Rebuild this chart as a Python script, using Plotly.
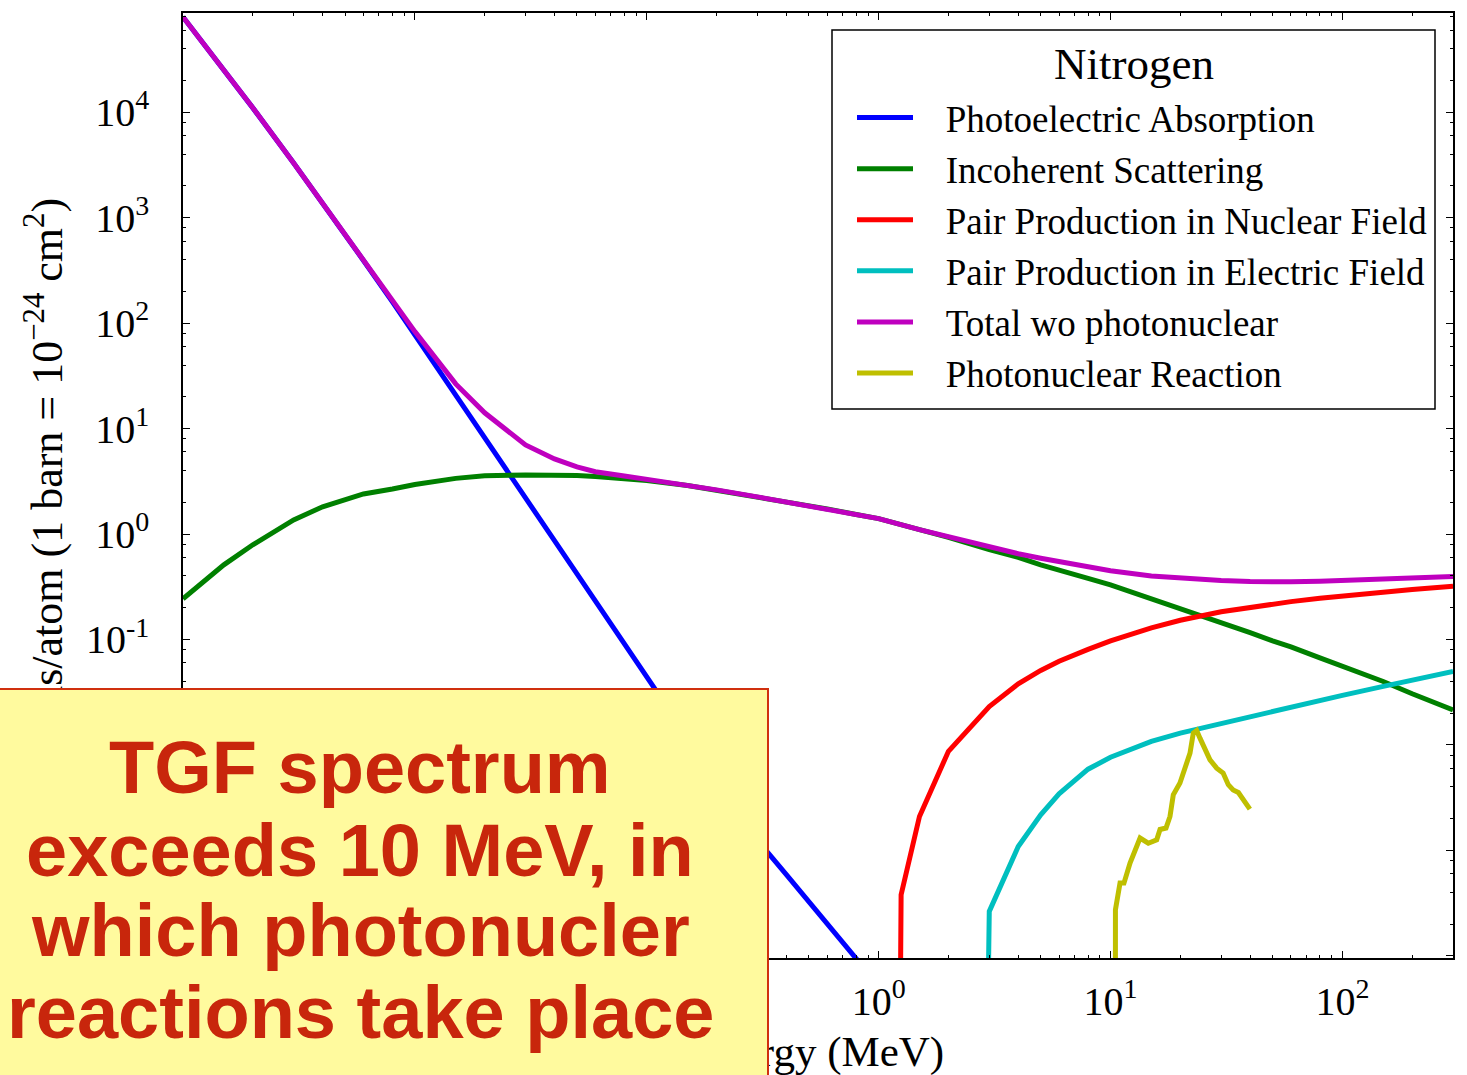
import numpy as np
import plotly.graph_objects as go

# ---------------- data ----------------
E_grid = [0.001, 0.0015, 0.002, 0.003, 0.004, 0.005, 0.006, 0.008, 0.01, 0.015,
          0.02, 0.03, 0.04, 0.05, 0.06, 0.08, 0.1, 0.15, 0.2, 0.3, 0.4, 0.5, 0.6,
          0.8, 1.0, 1.5, 2, 3, 4, 5, 6, 8, 10, 15, 20, 30, 40, 50, 60, 80, 100,
          150, 200, 300]

E_photo = [0.001, 0.0015, 0.002, 0.003, 0.004, 0.005, 0.006, 0.008, 0.01, 0.015,
           0.02, 0.03, 0.04, 0.05, 0.06, 0.08, 0.1, 0.15, 0.2, 0.3, 0.4, 0.5,
           0.6, 0.8, 1.0]
sigma_photo = [7.98e4, 2.547e4, 1.098e4, 3291, 1375, 691, 392.6, 158.8, 77.7,
               20.9, 8.23, 2.20, 0.865, 0.419, 0.2325, 0.0913, 0.0443, 0.01185,
               4.675e-3, 1.252e-3, 5.89e-4, 3.27e-4, 2.02e-4, 9.42e-5, 5.23e-5]

sigma_incoh = [0.243, 0.51, 0.79, 1.36, 1.81, 2.14, 2.40, 2.67, 2.95, 3.37,
               3.56, 3.63, 3.63, 3.59, 3.51, 3.37, 3.22, 2.89, 2.61, 2.24, 2.01,
               1.84, 1.73, 1.53, 1.40, 1.10, 0.93, 0.71, 0.60, 0.51, 0.45, 0.38,
               0.33, 0.243, 0.20, 0.147, 0.116, 0.097, 0.085, 0.067, 0.056,
               0.040, 0.0306, 0.0215]

sigma_total = [7.98e4, 2.55e4, 1.10e4, 3296, 1380, 696, 398, 164, 83, 26.5,
               14.1, 7.0, 5.15, 4.33, 3.90, 3.55, 3.30, 2.91, 2.62, 2.25, 2.01,
               1.84, 1.73, 1.53, 1.40, 1.10, 0.94, 0.74, 0.65, 0.59, 0.545, 0.49,
               0.448, 0.40, 0.38, 0.363, 0.355, 0.352, 0.352, 0.356, 0.363,
               0.371, 0.379, 0.395]

E_pair_nuc = [1.022, 1.25, 1.5, 2, 3, 4, 5, 6, 8, 10, 15, 20, 30, 40, 50, 60,
              80, 100, 150, 200, 300]
sigma_pair_nuc = [0.0, 3.8e-4, 2.1e-3, 8.7e-3, 0.02315, 0.03793, 0.05089,
                  0.06209, 0.08052, 0.09714, 0.1290, 0.1520, 0.1830, 0.2026,
                  0.2169, 0.2286, 0.2456, 0.2588, 0.2818, 0.2982, 0.3206]

E_pair_el = [2.044, 3, 4, 5, 6, 8, 10, 15, 20, 30, 40, 50, 60, 80, 100, 150,
             200, 300]
sigma_pair_el = [0.0, 2.64e-4, 1.09e-3, 2.18e-3, 3.445e-3, 5.89e-3, 7.64e-3,
                 0.01083, 0.01296, 0.01605, 0.01869, 0.02094, 0.02295, 0.02651,
                 0.02956, 0.03597, 0.04120, 0.04971]

E_photonuc = [10.45, 10.5, 10.99, 11.43, 12.14, 12.75, 13.41, 14.55, 15.82,
              16.35, 17.35, 18.05, 18.65, 19.93, 21.16, 22.02, 22.75, 23.53,
              24.31, 25.55, 26.85, 28.7, 30.6, 32.2, 33.8, 35.6, 37.4, 39.9]
sigma_photonuc = [0.0, 2.74e-4, 4.9e-4, 4.9e-4, 7.6e-4, 1.01e-3, 1.31e-3,
                  1.17e-3, 1.26e-3, 1.58e-3, 1.63e-3, 2.10e-3, 3.37e-3, 4.35e-3,
                  6.25e-3, 8.37e-3, 0.01295, 0.0137, 0.0116, 9.0e-3, 7.23e-3,
                  6.03e-3, 5.41e-3, 4.2e-3, 3.75e-3, 3.54e-3, 3.01e-3, 2.46e-3]

legend_title = "Nitrogen"
series_names = ["Photoelectric Absorption", "Incoherent Scattering",
                "Pair Production in Nuclear Field",
                "Pair Production in Electric Field", "Total wo photonuclear",
                "Photonuclear Reaction"]
series_colors = ["#0000FF", "#008000", "#FF0000", "#00BFBF", "#BF00BF", "#BFBF00"]

x_tick_vals = [1e-3, 1e-2, 1e-1, 1, 10, 100]
x_tick_text = ["10<sup>-3</sup>", "10<sup>-2</sup>", "10<sup>-1</sup>",
               "10<sup>0</sup>", "10<sup>1</sup>", "10<sup>2</sup>"]
y_tick_vals = [1e-4, 1e-3, 1e-2, 1e-1, 1, 10, 100, 1e3, 1e4]
y_tick_text = ["10<sup>-4</sup>", "10<sup>-3</sup>", "10<sup>-2</sup>",
               "10<sup>-1</sup>", "10<sup>0</sup>", "10<sup>1</sup>",
               "10<sup>2</sup>", "10<sup>3</sup>", "10<sup>4</sup>"]

x_title = "Energy (MeV)"
y_title = "barns/atom (1 barn = 10<sup>\u221224</sup> cm<sup>2</sup>)"
box_lines = ["TGF spectrum", "exceeds 10 MeV, in", "which photonucler",
             "reactions take place"]

# log-scale clipping of zero values (like matplotlib's nonpositive='clip')
CLIP_FLOOR = 1e-30


def clip(v):
    a = np.asarray(v, dtype=float)
    return np.where(a > 0, a, CLIP_FLOOR)


x_minor = [m * 10.0 ** d for d in range(-3, 3) for m in range(2, 10)]
y_minor = [m * 10.0 ** d for d in range(-5, 5) for m in (2, 4, 6, 8)]

SERIF = "Liberation Serif"
W, H = 1467, 1075
ML, MR, MT, MB = 183, 14, 13, 117
PW, PH = W - ML - MR, H - MT - MB


def px2paper_x(px):
    return (px - ML) / PW


def px2paper_y(py):
    return (H - MB - py) / PH


fig = go.Figure()
series = [(E_photo, sigma_photo), (E_grid, sigma_incoh),
          (E_pair_nuc, sigma_pair_nuc), (E_pair_el, sigma_pair_el),
          (E_grid, sigma_total), (E_photonuc, sigma_photonuc)]
NBSP = "\u00a0\u00a0\u00a0"
for (ex, sy), name, col in zip(series, series_names, series_colors):
    fig.add_trace(go.Scatter(x=ex, y=clip(sy), mode="lines", name=NBSP + name,
                             line=dict(color=col, width=5)))

axis_common = dict(type="log", showgrid=False, zeroline=False, showline=True,
                   linecolor="black", linewidth=1.5, mirror="ticks",
                   ticks="inside", ticklen=7, tickwidth=1, tickcolor="black",
                   tickfont=dict(family=SERIF, size=40, color="black"))

fig.update_xaxes(range=[-3, 2.477], tickmode="array", tickvals=x_tick_vals,
                 ticktext=x_tick_text, ticklabelstandoff=7,
                 minor=dict(tickmode="array", tickvals=x_minor, ticks="inside",
                            ticklen=3.5, tickwidth=1, tickcolor="black",
                            showgrid=False),
                 **axis_common)
fig.update_yaxes(range=[-4.02, 4.94], tickmode="array", tickvals=y_tick_vals,
                 ticktext=y_tick_text, ticklabelstandoff=24,
                 minor=dict(tickmode="array", tickvals=y_minor, ticks="inside",
                            ticklen=3.5, tickwidth=1, tickcolor="black",
                            showgrid=False),
                 **axis_common)

annotations = [
    # axis titles (annotations so the yellow box can cover them)
    dict(text=x_title, x=0.5, y=px2paper_y(1052), xref="paper",
         yref="paper", xanchor="center", yanchor="middle", showarrow=False,
         font=dict(family=SERIF, size=43, color="black")),
    dict(text=y_title, x=px2paper_x(44), y=px2paper_y(481), xref="paper",
         yref="paper", xanchor="center", yanchor="middle", textangle=-90,
         showarrow=False, font=dict(family=SERIF, size=44, color="black")),
    # legend title
    dict(text=legend_title, x=px2paper_x(1134), y=px2paper_y(64),
         xref="paper", yref="paper", xanchor="center", yanchor="middle",
         showarrow=False, font=dict(family=SERIF, size=45, color="black")),
    # yellow callout box
    dict(text=" ", x=px2paper_x(769), y=px2paper_y(688), xref="paper",
         yref="paper", xanchor="right", yanchor="top", width=830, height=420,
         bgcolor="#FFFA9E", bordercolor="#D0300E", borderwidth=2, borderpad=0,
         showarrow=False),
]
box_line_y = [767, 850, 930, 1012]
for t, yy in zip(box_lines, box_line_y):
    annotations.append(dict(text=t, x=px2paper_x(360), y=px2paper_y(yy),
                            xref="paper", yref="paper", xanchor="center",
                            yanchor="middle", showarrow=False,
                            font=dict(family="Liberation Sans", size=74,
                                      color="#C8260C", weight="bold")))

# legend frame
shapes = [dict(type="rect", xref="paper", yref="paper",
               x0=px2paper_x(832), x1=px2paper_x(1435),
               y0=px2paper_y(409), y1=px2paper_y(30),
               fillcolor="white", line=dict(color="black", width=1.5),
               layer="above")]

fig.update_layout(
    width=W, height=H,
    margin=dict(l=ML, r=MR, t=MT, b=MB, pad=0),
    paper_bgcolor="white", plot_bgcolor="white",
    showlegend=True,
    legend=dict(x=px2paper_x(852), y=px2paper_y(87), xanchor="left",
                yanchor="top", bgcolor="rgba(0,0,0,0)", borderwidth=0,
                font=dict(family=SERIF, size=37, color="black"),
                itemwidth=56, tracegroupgap=0),
    annotations=annotations,
    shapes=shapes,
)

fig.write_html("out.html")
